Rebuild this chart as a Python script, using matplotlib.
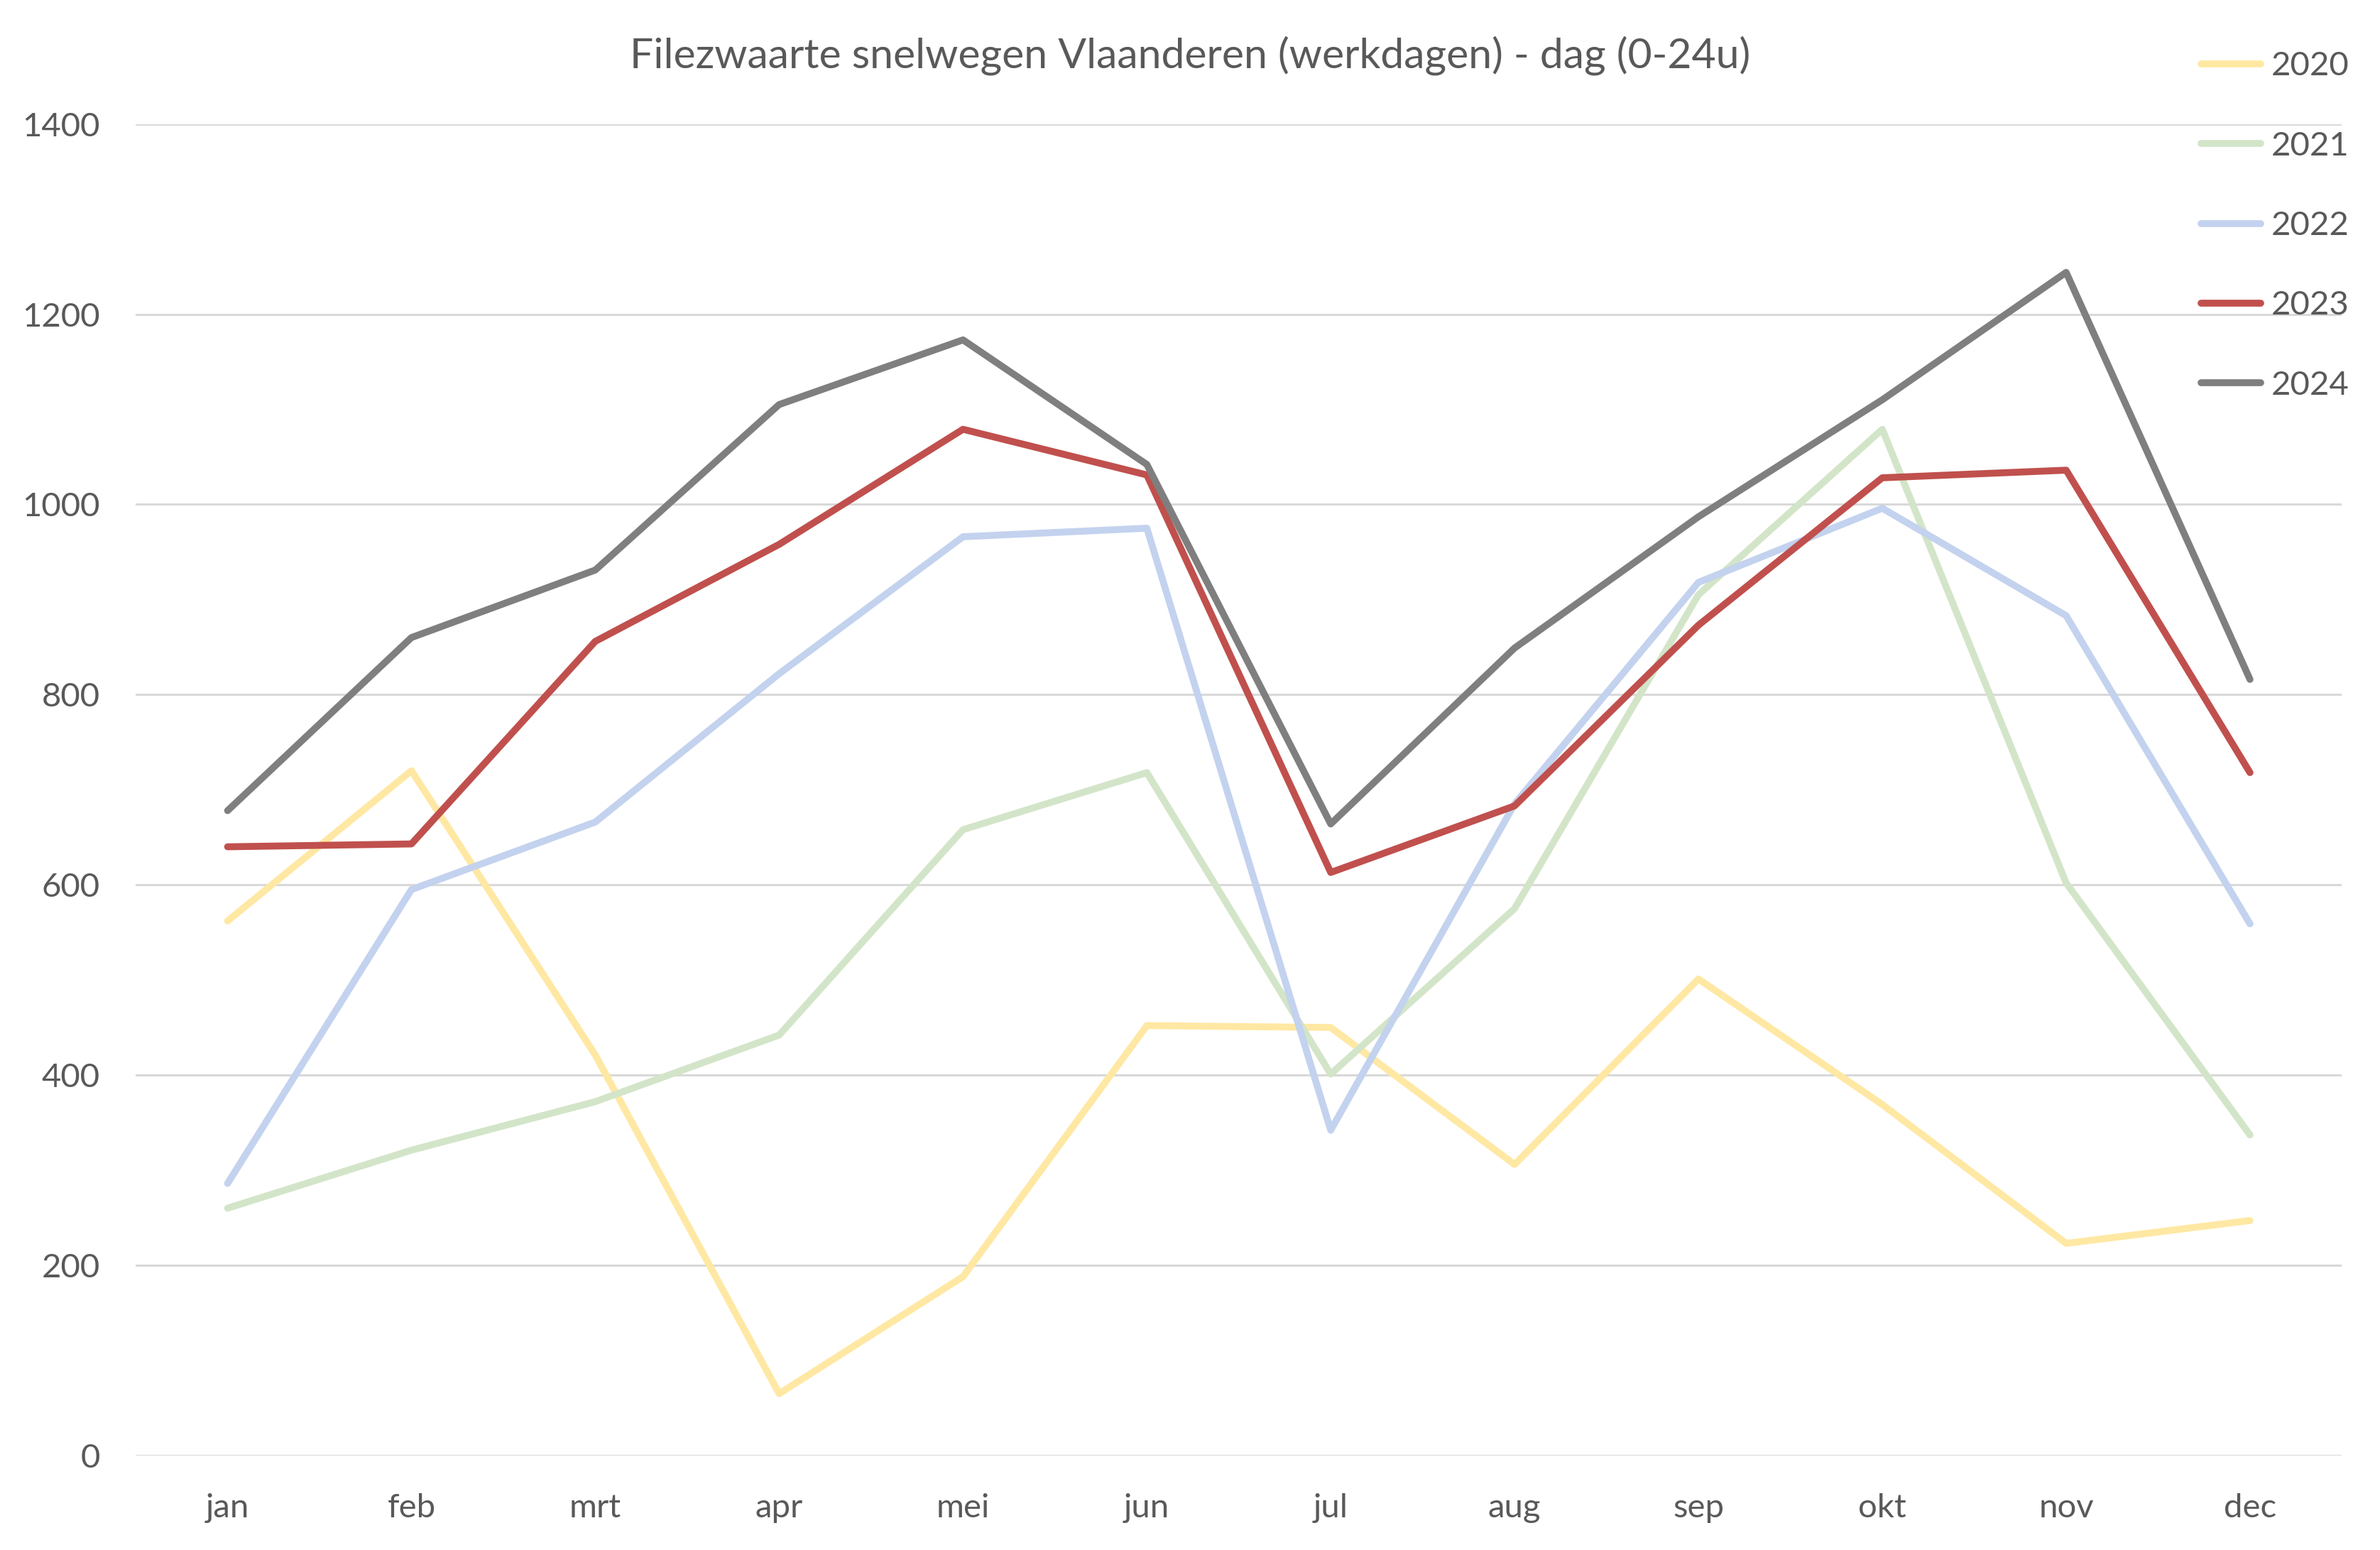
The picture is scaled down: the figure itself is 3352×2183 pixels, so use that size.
import matplotlib
matplotlib.use("Agg")
import matplotlib.pyplot as plt

plt.rcParams['font.family'] = ['Lato', 'DejaVu Sans']

months = ["jan", "feb", "mrt", "apr", "mei", "jun", "jul", "aug", "sep", "okt", "nov", "dec"]
years = ["2020", "2021", "2022", "2023", "2024"]
v2020 = [562, 720, 421, 65, 188, 452, 450, 306, 501, 369, 223, 247]
v2021 = [260, 321, 372, 442, 658, 718, 401, 575, 905, 1079, 602, 337]
v2022 = [286, 595, 666, 822, 966, 975, 342, 685, 918, 996, 883, 559]
v2023 = [640, 643, 856, 958, 1079, 1031, 613, 683, 873, 1028, 1036, 718]
v2024 = [678, 860, 931, 1105, 1173, 1042, 664, 849, 987, 1110, 1244, 816]
series = [v2020, v2021, v2022, v2023, v2024]
colors = ["#FFE8A3", "#D3E5C8", "#C3D2EE", "#C0504D", "#7F7F7F"]
yticks = [0, 200, 400, 600, 800, 1000, 1200, 1400]

title = "Filezwaarte snelwegen Vlaanderen (werkdagen) - dag (0-24u)"
txt = "#595959"

fig = plt.figure(figsize=(16.76, 10.915), dpi=200)
ax = fig.add_axes([0.057, 0.061, 0.927, 0.859])

x = list(range(len(months)))
for name, vals, c in zip(years, series, colors):
    ax.plot(x, vals, color=c, lw=3.5, label=name, solid_capstyle='round',
            solid_joinstyle='round')

ax.set_xlim(-0.5, 11.5)
ax.set_ylim(0, 1400)
ax.set_yticks(yticks)
ax.set_xticks(x)
ax.set_xticklabels(months)
ax.grid(axis='y', color='#D9D9D9', lw=1.1)
ax.set_axisbelow(True)
for s in ax.spines.values():
    s.set_visible(False)
ax.tick_params(axis='both', length=0, labelsize=17, colors=txt)
ax.tick_params(axis='y', pad=18)
ax.tick_params(axis='x', pad=19)

fig.text(0.5, 0.964, title, ha='center', va='center', fontsize=21.2, color=txt)

leg = fig.legend(loc='upper right', bbox_to_anchor=(0.9968, 0.982), frameon=False,
                 fontsize=17, labelspacing=1.49, handlelength=1.78, handletextpad=0.3,
                 borderaxespad=0.3, labelcolor=txt)

fig.savefig("out.png", dpi=200)
